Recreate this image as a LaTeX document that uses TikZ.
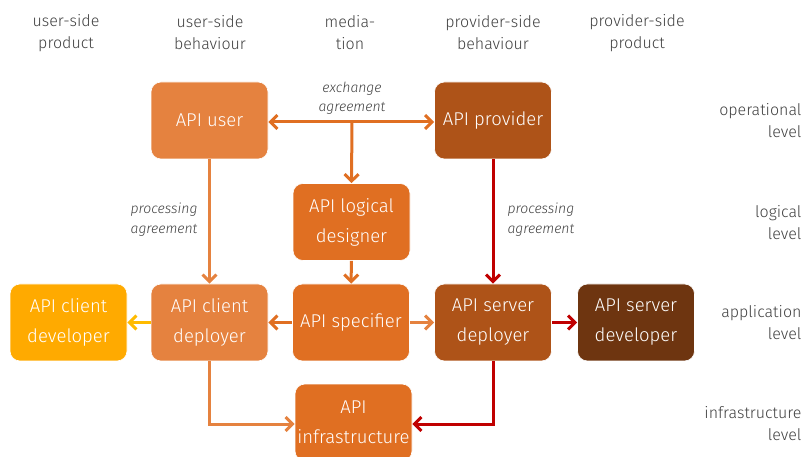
\documentclass[tikz,border=0pt]{standalone}
\usepackage{fontspec}
\setmainfont{Fira Sans Light}[ItalicFont={Fira Sans Light Italic}]
\usetikzlibrary{arrows.meta}
\definecolor{cuser}{HTML}{E5823F}
\definecolor{cmed}{HTML}{E06F22}
\definecolor{cprov}{HTML}{AE5318}
\definecolor{cclient}{HTML}{FFAA00}
\definecolor{csrv}{HTML}{6E3510}
\definecolor{cred}{HTML}{C00000}
\definecolor{cyel}{HTML}{FFBB00}
\definecolor{ctxt}{HTML}{404040}
\tikzset{
  box/.style={rounded corners=10pt, minimum width=117pt, minimum height=77pt, inner sep=2pt,
    align=center, text=white, font=\fontsize{18.5}{30}\selectfont, draw=white, line width=0.6pt},
  conn/.style={line width=3pt, -{Straight Barb[length=7pt,width=14pt,line width=3pt]}},
  conn2/.style={line width=3pt, {Straight Barb[length=7pt,width=14pt,line width=3pt]}-{Straight Barb[length=7pt,width=14pt,line width=3pt]}},
  head/.style={align=center, text=ctxt, font=\fontsize{16}{22}\selectfont},
  lvl/.style={align=right, anchor=east, text=ctxt, font=\fontsize{16}{22}\selectfont},
  elab/.style={text=ctxt, font=\fontsize{14}{19.5}\selectfont\itshape}
}
\begin{document}
\begin{tikzpicture}[x=1pt,y=-1pt]
\useasboundingbox (0,0) rectangle (804,457);
% headings
\node[head] (h1) at (66,33) {user-side\\product};
\node[head] (h2) at (210,33) {user-side\\behaviour};
\node[head] (h3) at (350,33) {media-\\tion};
\node[head] (h4) at (493,33) {provider-side\\behaviour};
\node[head] (h5) at (637,33) {provider-side\\product};
% levels
\node[lvl] (l1) at (805,121) {operational\\level};
\node[lvl] (l2) at (805,223) {logical\\level};
\node[lvl] (l3) at (805,323) {application\\level};
\node[lvl] (l4) at (805,424) {infrastructure\\level};
% boxes
\node[box, fill=cuser] (user) at (209.5,120.5) {API user};
\node[box, fill=cprov] (prov) at (493,120.5) {API provider};
\node[box, fill=cmed] (logic) at (351.5,222) {API logical\\designer};
\node[box, fill=cclient] (cdev) at (68.5,322.5) {API client\\developer};
\node[box, fill=cuser] (cdep) at (209.5,322.5) {API client\\deployer};
\node[box, fill=cmed] (spec) at (351,322.5) {API specifier};
\node[box, fill=cprov] (sdep) at (493,322.5) {API server\\deployer};
\node[box, fill=csrv] (sdev) at (636,322.5) {API server\\developer};
\node[box, fill=cmed] (infra) at (353.5,422.5) {API\\infrastructure};
% connectors
\coordinate (mid) at (352,122);
\draw[conn2, cmed] (user.east |- mid) -- (prov.west |- mid);
\draw[conn, cmed] (mid) -- (logic.north);
\node[elab, align=center] (ex) at (352,98) {exchange\\agreement};
\draw[conn, cmed] (logic) -- (spec);
\draw[conn, cuser] (user) -- (cdep);
\draw[conn, cred] (prov) -- (sdep);
\node[elab, align=right, anchor=east] (pa1) at (201,219.5) {processing\\agreement};
\node[elab, align=left, anchor=west] (pa2) at (504,219.5) {processing\\agreement};
\draw[conn, cmed] (spec) -- (cdep);
\draw[conn, cyel] (cdep) -- (cdev);
\draw[conn, cuser] (spec) -- (sdep);
\draw[conn, cred] (sdep) -- (sdev);
\coordinate (b) at (0,424);
\draw[conn, cuser] (cdep.south) |- (infra.west |- b);
\draw[conn, cred] (sdep.south) |- (infra.east |- b);
\end{tikzpicture}
\end{document}
